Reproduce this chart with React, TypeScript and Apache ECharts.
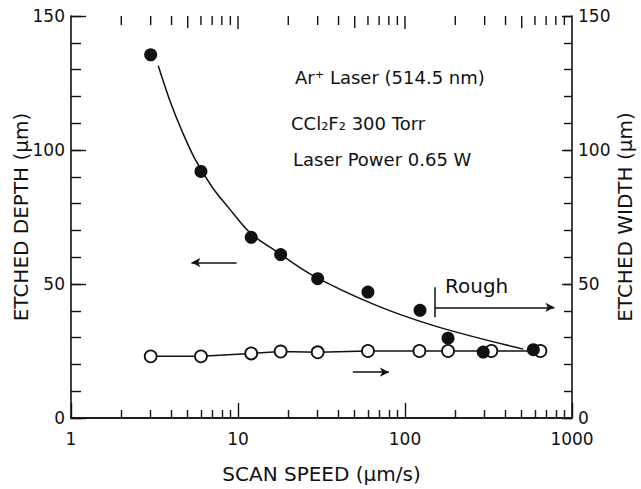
import React, { useEffect, useRef } from "react";
import * as echarts from "echarts";

// Etched depth (filled circles)
const depthSpeed = [3, 6, 12, 18, 30, 60, 123, 181, 294, 587];
const depthValues = [135.5, 92, 67.4, 61, 52, 47, 40.2, 29.8, 24.6, 25.5];

// Etched width (open circles)
const widthSpeed = [3, 6, 12, 18, 30, 60, 122, 181, 329, 647];
const widthValues = [23, 23, 24.1, 24.8, 24.5, 25, 25, 25, 25, 25];

// Fitted curve through depth data
const fitSpeed = [3.33, 3.93, 4.64, 5.55, 7.03, 8.77, 11.9, 16.3, 27.3, 65.1, 153.6, 511];
const fitDepth = [131.4, 118.0, 106.8, 96.4, 86.0, 78.5, 68.9, 62.9, 53.6, 42.4, 34.2, 25.7];

// Annotation positions (data coordinates)
const roughStart = 151;
const roughEnd = 785;
const roughY = 41.3;
const roughBarTop = 48.8;
const roughBarBottom = 37.6;
const depthArrow = { from: 9.8, to: 5.26, y: 58 };
const widthArrow = { from: 48.7, to: 80.2, y: 17.1 };

// Axis ticks
const yTicks = [0, 50, 100, 150];
const xTicks = [1, 10, 100, 1000];
const xMidTicks = [5, 50, 500];
const xMinorTicks = [2, 3, 4, 6, 7, 8, 9, 20, 30, 40, 60, 70, 80, 90, 200, 300, 400, 600, 700, 800, 900];

export default function App() {
  const ref = useRef<HTMLDivElement>(null);
  useEffect(() => {
    const chart = echarts.init(ref.current!, null, { renderer: "svg" });
    const font = "DejaVu Sans";
    const ink = "#111";
    const xMin = xTicks[0];
    const xMax = xTicks[xTicks.length - 1];
    const yMin = yTicks[0];
    const yMax = yTicks[yTicks.length - 1];
    const tw = 1.4;

    const axisLine = { show: true, lineStyle: { color: ink, width: 1.6 } };
    const noTicks = { axisTick: { show: false }, minorTick: { show: false }, splitLine: { show: false }, minorSplitLine: { show: false } };
    const xCommon: any = { type: "log", logBase: 10, min: xMin, max: xMax, axisLine, ...noTicks };
    const yCommon: any = { type: "value", min: yMin, max: yMax, interval: 50, axisLine, ...noTicks };
    const labelStyle = { color: ink, fontFamily: font, fontSize: 17 };
    const nameStyle = { color: ink, fontFamily: font, fontSize: 20 };

    // helper y axes that carry only tick marks, shifted into the plot so that outward ticks end on the frame
    const tickAxis = (position: string, offset: number, len: number, minor: boolean) => ({
      type: "value",
      min: yMin,
      max: yMax,
      interval: 50,
      position,
      offset: -offset,
      axisLine: { show: false },
      axisLabel: { show: false },
      splitLine: { show: false },
      minorSplitLine: { show: false },
      axisTick: { show: true, inside: false, length: len, lineStyle: { color: ink, width: tw } },
      minorTick: { show: minor, splitNumber: 5, length: len, lineStyle: { color: ink, width: tw } },
    });

    const seg = (x1: number, y1: number, x2: number, y2: number, s2: string) => [
      { coord: [x1, y1], symbol: "none" },
      { coord: [x2, y2], symbol: s2 },
    ];

    const texts: any[] = [
      { type: "text", left: 295, top: 68, style: { text: "Ar⁺ Laser (514.5 nm)", fill: ink, font: `18px "${font}"` } },
      { type: "text", left: 291, top: 114, style: { text: "CCl₂F₂ 300 Torr", fill: ink, font: `18px "${font}"` } },
      { type: "text", left: 293, top: 150, style: { text: "Laser Power 0.65 W", fill: ink, font: `18px "${font}"` } },
      { type: "text", left: 445, top: 276, style: { text: "Rough", fill: ink, font: `20px "${font}"` } },
    ];

    chart.setOption({
      animation: false,
      backgroundColor: "#fff",
      grid: { left: 71, right: 69, top: 16, bottom: 71, containLabel: false, outerBoundsMode: "none" },
      xAxis: [
        {
          ...xCommon,
          position: "bottom",
          axisTick: { show: true, inside: true, length: 15, lineStyle: { color: ink, width: tw } },
          minorTick: { show: true, splitNumber: 9, length: 8, lineStyle: { color: ink, width: tw } },
          axisLabel: { ...labelStyle, margin: 12, formatter: (v: number) => String(Math.round(v)) },
          name: "SCAN SPEED (μm/s)",
          nameLocation: "middle",
          nameGap: 46,
          nameMoveOverlap: false,
          nameTextStyle: nameStyle,
        },
        { ...xCommon, position: "top", axisLabel: { show: false } },
      ],
      yAxis: [
        {
          ...yCommon,
          position: "left",
          axisLabel: { ...labelStyle, margin: 6 },
          name: "ETCHED DEPTH (μm)",
          nameLocation: "middle",
          nameRotate: 90,
          nameGap: 40,
          nameMoveOverlap: false,
          nameTextStyle: nameStyle,
        },
        {
          ...yCommon,
          position: "right",
          axisLabel: { ...labelStyle, margin: 6 },
          name: "ETCHED WIDTH (μm)",
          nameLocation: "middle",
          nameRotate: 90,
          nameGap: 43,
          nameMoveOverlap: false,
          nameTextStyle: nameStyle,
        },
        tickAxis("left", 10, 10, true),
        tickAxis("left", 15, 15, false),
        tickAxis("right", 8, 8, true),
        tickAxis("right", 10, 10, false),
      ],
      series: [
        {
          type: "line",
          name: "fit",
          data: fitSpeed.map((x, i) => [x, fitDepth[i]]),
          smooth: 0.35,
          showSymbol: false,
          symbol: "none",
          lineStyle: { color: ink, width: 1.5 },
          z: 2,
          markLine: {
            silent: true,
            symbolSize: [7, 9],
            label: { show: false },
            lineStyle: { color: ink, width: 1.5, type: "solid" },
            emphasis: { disabled: true },
            data: [
              seg(roughStart, roughBarTop, roughStart, roughBarBottom, "none"),
              seg(roughStart, roughY, roughEnd, roughY, "arrow"),
              seg(depthArrow.from, depthArrow.y, depthArrow.to, depthArrow.y, "arrow"),
              seg(widthArrow.from, widthArrow.y, widthArrow.to, widthArrow.y, "arrow"),
            ],
          },
        },
        {
          type: "line",
          name: "width",
          yAxisIndex: 1,
          data: widthSpeed.map((x, i) => [x, widthValues[i]]),
          symbol: "circle",
          symbolSize: 12,
          itemStyle: { color: "#fff", borderColor: ink, borderWidth: 1.8 },
          lineStyle: { color: ink, width: 1.5 },
          z: 3,
        },
        {
          type: "scatter",
          name: "depth",
          data: depthSpeed.map((x, i) => [x, depthValues[i]]),
          symbol: "circle",
          symbolSize: 13,
          itemStyle: { color: ink, opacity: 1 },
          z: 4,
        },
      ],
      graphic: texts,
    });

    // Tick marks on the top edge, positioned through the chart's own scales
    const toPx = (v: number[]) => chart.convertToPixel({ gridIndex: 0 } as any, v) as unknown as number[];
    const yA = toPx([10, 50])[1];
    const yB = toPx([10, 100])[1];
    const pxPerUnit = (yA - yB) / 50;
    const topPx = yB - (yMax - 100) * pxPerUnit;
    const xA = toPx([10, 50])[0];
    const xB = toPx([100, 50])[0];
    const pxPerDecade = xB - xA;
    const rect = (x: number, y: number, w: number, h: number) => ({
      type: "rect",
      silent: true,
      zlevel: 5,
      z: 100,
      shape: { x, y, width: w, height: h },
      style: { fill: ink },
    });
    const ticks: any[] = [];
    const addTop = (vals: number[], len: number) =>
      vals.forEach((v) => {
        const x = xA + Math.log10(v / 10) * pxPerDecade;
        ticks.push(rect(x - tw / 2, topPx, tw, len));
      });
    addTop(xTicks.slice(1, -1), 13);
    addTop(xMidTicks, 12);
    addTop(xMinorTicks, 9);
    chart.setOption({ graphic: [...texts, ...ticks] });

    return () => chart.dispose();
  }, []);
  return <div ref={ref} style={{ position: "absolute", left: 0, top: 0, width: 641, height: 489 }} />;
}
